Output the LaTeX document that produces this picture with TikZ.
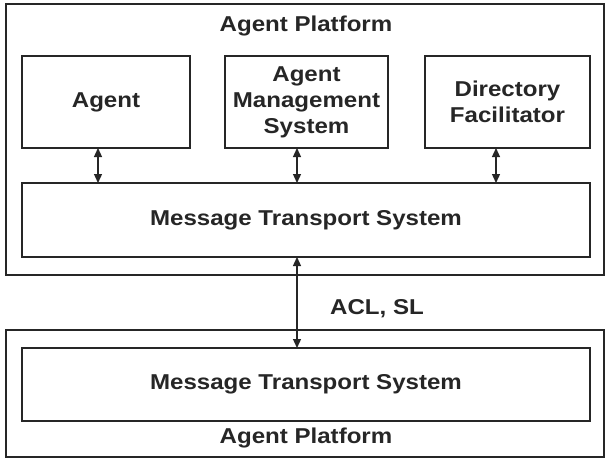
\documentclass[tikz,border=0pt]{standalone}
\usepackage{fontspec}
\setmainfont{Liberation Sans}[FakeStretch=1.12]
\usetikzlibrary{arrows.meta}
\begin{document}
\begin{tikzpicture}[x=1pt,y=-1pt,
  box/.style={draw=black!85,line width=1.4pt},
  lbl/.style={font=\fontsize{21.5}{26}\selectfont\bfseries,text=black!85,align=center,inner sep=0pt},
  dbl/.style={black!85,line width=1.3pt,{Triangle[length=9pt,width=8pt]}-{Triangle[length=9pt,width=8pt]}}]
\useasboundingbox[fill=white] (0,0) rectangle (608,464);
\draw[box] (6,4) rectangle (604,275);
\node[lbl] (t1) at (306,26) {Agent Platform};
\node[box,minimum width=168pt,minimum height=92pt] (agent) at (106,102) {};
\node[lbl] at (agent.center) {Agent};
\node[box,minimum width=163pt,minimum height=92pt] (ams) at (306.5,102) {};
\node[lbl] at (ams.center) {Agent\\Management\\System};
\node[box,minimum width=165pt,minimum height=92pt] (df) at (507.5,102) {};
\node[lbl] at (df.center) {Directory\\Facilitator};
\node[box,minimum width=568pt,minimum height=74pt] (mts1) at (306,220) {};
\node[lbl] at (mts1.center) {Message Transport System};
\draw[box] (6,330) rectangle (604,457);
\node[box,minimum width=568pt,minimum height=73pt] (mts2) at (306,384.5) {};
\node[lbl] at (mts2.center) {Message Transport System};
\node[lbl] (t2) at (306,438) {Agent Platform};
\node[lbl] (acl) at (377,309) {ACL, SL};
\draw[dbl] (98,148) -- (98,183);
\draw[dbl] (297,148) -- (297,183);
\draw[dbl] (496,148) -- (496,183);
\draw[dbl] (297,257) -- (297,348);
\end{tikzpicture}
\end{document}
